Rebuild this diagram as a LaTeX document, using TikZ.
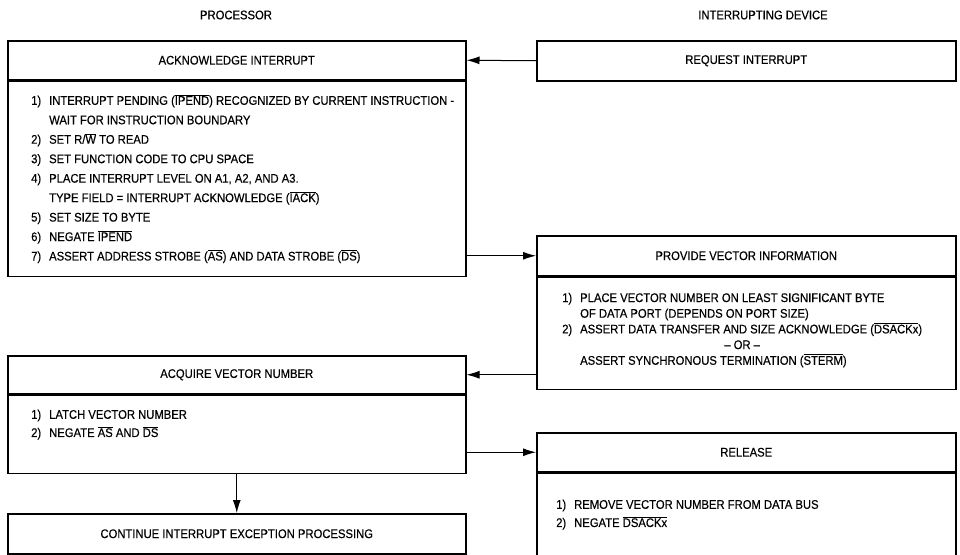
\documentclass[tikz,border=0pt]{standalone}
\usepackage{fontspec}
\setmainfont{Liberation Sans}[FakeStretch=0.9, FakeBold=0.4]
\usetikzlibrary{arrows.meta,positioning}

\newcommand{\nbar}[1]{$\overline{\mbox{#1}}$}

\tikzset{
  boxhead/.style={draw, line width=1.5pt, inner sep=0pt, minimum height=39pt, anchor=north west},
  boxbody/.style={draw, line width=1.5pt, inner sep=0pt, anchor=north},
  steplist/.style={anchor=west, inner sep=0pt, align=left},
  sig/.style={-{Latex[length=13pt,width=8pt]}, line width=1pt},
}

\begin{document}
\begin{tikzpicture}[x=1pt, y=-1pt, font=\fontsize{12.5}{14}\selectfont]
\useasboundingbox (0,0) rectangle (960,554);

% column titles
\node (proc) at (236,15) {PROCESSOR};
\node (dev) at (763,15) {INTERRUPTING DEVICE};

% processor side
\node[boxhead, minimum width=458pt] (ackhead) at (7,40) {ACKNOWLEDGE INTERRUPT};
\node[boxbody, minimum width=458pt, minimum height=195pt] (ackbody) at (ackhead.south) {};
\node[steplist, xshift=24pt] (acklist) at (ackbody.west) {%
  \renewcommand{\arraystretch}{1.39}%
  \begin{tabular}{@{}p{18pt}@{}l@{}}
  1) & INTERRUPT PENDING (\nbar{IPEND}) RECOGNIZED BY CURRENT INSTRUCTION -\\
     & WAIT FOR INSTRUCTION BOUNDARY\\
  2) & SET R/\nbar{W} TO READ\\
  3) & SET FUNCTION CODE TO CPU SPACE\\
  4) & PLACE INTERRUPT LEVEL ON A1, A2, AND A3.\\
     & TYPE FIELD = INTERRUPT ACKNOWLEDGE (\nbar{IACK})\\
  5) & SET SIZE TO BYTE\\
  6) & NEGATE \nbar{IPEND}\\
  7) & ASSERT ADDRESS STROBE (\nbar{AS}) AND DATA STROBE (\nbar{DS})
  \end{tabular}};

\node[boxhead, minimum width=458pt, minimum height=38pt] (acqhead) at (7,355) {ACQUIRE VECTOR NUMBER};
\node[boxbody, minimum width=458pt, minimum height=78pt] (acqbody) at (acqhead.south) {};
\node[steplist, xshift=24pt, yshift=10pt] (acqlist) at (acqbody.west) {%
  \renewcommand{\arraystretch}{1.3}%
  \begin{tabular}{@{}p{18pt}@{}l@{}}
  1) & LATCH VECTOR NUMBER\\
  2) & NEGATE \nbar{AS} AND \nbar{DS}
  \end{tabular}};

\node[boxhead, minimum width=458pt, minimum height=40pt] (cont) at (7,513) {CONTINUE INTERRUPT EXCEPTION PROCESSING};

% interrupting device side
\node[boxhead, minimum width=419pt, minimum height=40pt] (reqhead) at (536,40) {REQUEST INTERRUPT};

\node[boxhead, minimum width=419pt, minimum height=40pt] (provhead) at (536,235) {PROVIDE VECTOR INFORMATION};
\node[boxbody, minimum width=419pt, minimum height=112pt] (provbody) at (provhead.south) {};
\node[steplist, xshift=26pt, yshift=3pt] (provlist) at (provbody.west) {%
  \renewcommand{\arraystretch}{1.12}%
  \begin{tabular}{@{}p{18pt}@{}l@{}}
  1) & PLACE VECTOR NUMBER ON LEAST SIGNIFICANT BYTE\\
     & OF DATA PORT (DEPENDS ON PORT SIZE)\\
  2) & ASSERT DATA TRANSFER AND SIZE ACKNOWLEDGE (\nbar{DSACKx})\\
  \multicolumn{2}{@{}c@{}}{-- OR --}\\
     & ASSERT SYNCHRONOUS TERMINATION (\nbar{STERM})
  \end{tabular}};

\node[boxhead, minimum width=419pt] (relhead) at (536,432) {RELEASE};
\node[boxbody, minimum width=419pt, minimum height=82pt] (relbody) at (relhead.south) {};
\node[steplist, xshift=20pt] (rellist) at (relbody.west) {%
  \renewcommand{\arraystretch}{1.3}%
  \begin{tabular}{@{}p{18pt}@{}l@{}}
  1) & REMOVE VECTOR NUMBER FROM DATA BUS\\
  2) & NEGATE \nbar{DSACKx}
  \end{tabular}};

% handshake
\draw[sig] (reqhead.west) -- (ackhead.east);
\draw[sig] (ackbody.east |- provhead.west) -- (provhead.west);
\draw[sig] (provbody.west |- acqhead.east) -- (acqhead.east);
\draw[sig] (acqbody.east |- relhead.west) -- (relhead.west);
\draw[sig] (acqbody.south) -- (cont.north);
\end{tikzpicture}
\end{document}
